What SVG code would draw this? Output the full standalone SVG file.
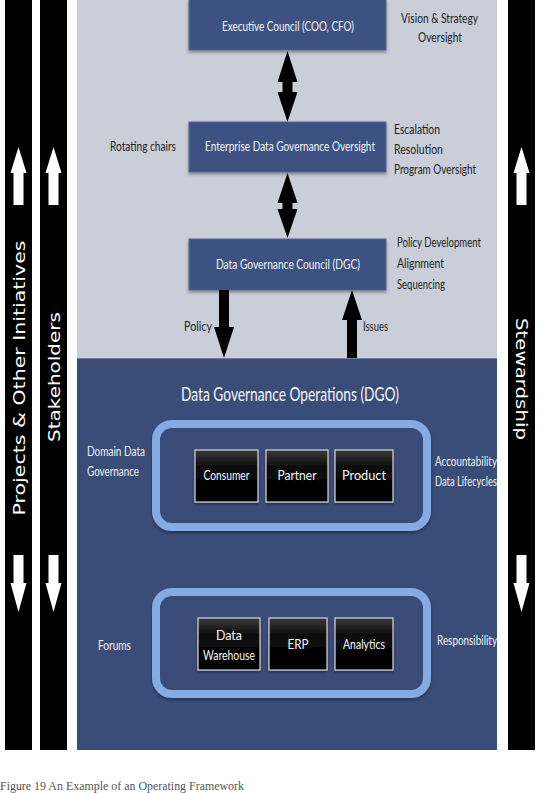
<svg xmlns="http://www.w3.org/2000/svg" width="546" height="793" viewBox="0 0 546 793">
<defs>
<style>
.gs{font-family:Lato,"Open Sans","DejaVu Sans",sans-serif;}
.lbl{font-size:12.5px;fill:#1e1e1e;}
.wl{font-size:12.5px;fill:#eef1f6;}
.bt{font-size:12.5px;fill:#f2f4f8;text-anchor:middle;}
.vt{font-family:"DejaVu Sans",Verdana,sans-serif;font-size:16.5px;fill:#ffffff;text-anchor:middle;}
.bar{fill:#000;}
.navy{fill:#3d5183;stroke:#56698f;stroke-width:1;filter:url(#sh);}
.blk{fill:url(#bg);stroke:#d8d8d8;stroke-width:1.2;filter:url(#sh);}
.ring{fill:#3a4c78;stroke:#84abe4;stroke-width:8;filter:url(#sh);}
.arr{fill:#000;}
.warr{fill:#fff;}
</style>
<linearGradient id="bg" x1="0" y1="0" x2="0" y2="1">
<stop offset="0" stop-color="#3a3a3a"/>
<stop offset="0.35" stop-color="#0a0a0a"/>
<stop offset="1" stop-color="#000"/>
</linearGradient>
<filter id="sh" x="-10%" y="-10%" width="120%" height="130%">
<feDropShadow dx="0" dy="2" stdDeviation="1.5" flood-color="#000" flood-opacity="0.35"/>
</filter>
</defs>
<rect width="546" height="793" fill="#fff"/>

<g id="bars">
<rect class="bar" x="5" y="0" width="27" height="750"/>
<rect class="bar" x="40" y="0" width="27" height="750"/>
<rect class="bar" x="508" y="0" width="27" height="750"/>
<path class="warr" d="M18.5 147 L26.5 173 L23.5 173 L23.5 205 L13.5 205 L13.5 173 L10.5 173 Z"/>
<path class="warr" d="M53.5 147 L61.5 173 L58.5 173 L58.5 205 L48.5 205 L48.5 173 L45.5 173 Z"/>
<path class="warr" d="M521.5 147 L529.5 173 L526.5 173 L526.5 205 L516.5 205 L516.5 173 L513.5 173 Z"/>
<path class="warr" d="M18.5 612 L26.5 583 L23.5 583 L23.5 555 L13.5 555 L13.5 583 L10.5 583 Z"/>
<path class="warr" d="M53.5 612 L61.5 583 L58.5 583 L58.5 555 L48.5 555 L48.5 583 L45.5 583 Z"/>
<path class="warr" d="M521.5 612 L529.5 583 L526.5 583 L526.5 555 L516.5 555 L516.5 583 L513.5 583 Z"/>
<text class="vt" transform="translate(24.5,378) rotate(-90)" textLength="275" lengthAdjust="spacingAndGlyphs">Projects &amp; Other Initiatives</text>
<text class="vt" transform="translate(59.5,377) rotate(-90)" textLength="130" lengthAdjust="spacingAndGlyphs">Stakeholders</text>
<text class="vt" transform="translate(515.5,379) rotate(90)" textLength="122" lengthAdjust="spacingAndGlyphs">Stewardship</text>
</g>

<g id="panel">
<rect x="77" y="0" width="420" height="358" fill="#c9ced8"/>
<rect x="77" y="358" width="420" height="392" fill="#3a4c78"/>
<line x1="77" y1="358.5" x2="497" y2="358.5" stroke="#6a7ea8" stroke-width="1"/>
</g>

<g id="exec">
<rect class="navy" x="189" y="-1" width="197" height="51"/>
<text class="gs bt" x="288" y="31" textLength="132" lengthAdjust="spacingAndGlyphs">Executive Council (COO, CFO)</text>
<text class="gs lbl" x="401" y="23" textLength="77" lengthAdjust="spacingAndGlyphs">Vision &amp; Strategy</text>
<text class="gs lbl" x="418" y="42" textLength="44" lengthAdjust="spacingAndGlyphs">Oversight</text>
</g>

<g id="edgo">
<rect class="navy" x="189" y="122" width="197" height="50"/>
<text class="gs bt" x="290" y="151" textLength="170" lengthAdjust="spacingAndGlyphs">Enterprise Data Governance Oversight</text>
<text class="gs lbl" x="110" y="151" textLength="66" lengthAdjust="spacingAndGlyphs">Rotating chairs</text>
<text class="gs lbl" x="394" y="134" textLength="46" lengthAdjust="spacingAndGlyphs">Escalation</text>
<text class="gs lbl" x="394" y="154" textLength="49" lengthAdjust="spacingAndGlyphs">Resolution</text>
<text class="gs lbl" x="394" y="174" textLength="82" lengthAdjust="spacingAndGlyphs">Program Oversight</text>
</g>

<g id="dgc">
<rect class="navy" x="189" y="239" width="197" height="51"/>
<text class="gs bt" x="288" y="269" textLength="144" lengthAdjust="spacingAndGlyphs">Data Governance Council (DGC)</text>
<text class="gs lbl" x="397" y="247" textLength="84" lengthAdjust="spacingAndGlyphs">Policy Development</text>
<text class="gs lbl" x="397" y="268" textLength="47" lengthAdjust="spacingAndGlyphs">Alignment</text>
<text class="gs lbl" x="397" y="289" textLength="48" lengthAdjust="spacingAndGlyphs">Sequencing</text>
</g>

<g id="dgo">
<text class="gs" x="290" y="401" font-size="18.5" fill="#f2f4f8" text-anchor="middle" textLength="218" lengthAdjust="spacingAndGlyphs">Data Governance Operations (DGO)</text>
</g>

<g id="domain">
<rect class="ring" x="156" y="424" width="271" height="103" rx="16"/>
<text class="gs wl" x="87" y="456" textLength="58" lengthAdjust="spacingAndGlyphs">Domain Data</text>
<text class="gs wl" x="87" y="476" textLength="52" lengthAdjust="spacingAndGlyphs">Governance</text>
<text class="gs wl" x="435" y="466" textLength="62" lengthAdjust="spacingAndGlyphs">Accountability</text>
<text class="gs wl" x="435" y="486" textLength="62" lengthAdjust="spacingAndGlyphs">Data Lifecycles</text>
</g>
<g id="consumer">
<rect class="blk" x="195" y="450" width="63" height="52"/>
<text class="gs bt" x="226.5" y="480" textLength="46" lengthAdjust="spacingAndGlyphs">Consumer</text>
</g>
<g id="partner">
<rect class="blk" x="266" y="450" width="62" height="52"/>
<text class="gs bt" x="297" y="480" textLength="39" lengthAdjust="spacingAndGlyphs">Partner</text>
</g>
<g id="product">
<rect class="blk" x="335" y="450" width="58" height="52"/>
<text class="gs bt" x="364" y="480" textLength="44" lengthAdjust="spacingAndGlyphs">Product</text>
</g>

<g id="forums">
<rect class="ring" x="156" y="592" width="271" height="102" rx="16"/>
<text class="gs wl" x="98" y="650" textLength="33" lengthAdjust="spacingAndGlyphs">Forums</text>
<text class="gs wl" x="437" y="645" textLength="60" lengthAdjust="spacingAndGlyphs">Responsibility</text>
</g>
<g id="dw">
<rect class="blk" x="198" y="618" width="62" height="52"/>
<text class="gs bt" x="229" y="640" textLength="26" lengthAdjust="spacingAndGlyphs">Data</text>
<text class="gs bt" x="229" y="660" textLength="52" lengthAdjust="spacingAndGlyphs">Warehouse</text>
</g>
<g id="erp">
<rect class="blk" x="269" y="618" width="58" height="52"/>
<text class="gs bt" x="298" y="649" textLength="21" lengthAdjust="spacingAndGlyphs">ERP</text>
</g>
<g id="analytics">
<rect class="blk" x="335" y="618" width="58" height="52"/>
<text class="gs bt" x="364" y="649" textLength="42" lengthAdjust="spacingAndGlyphs">Analytics</text>
</g>

<g id="connectors">
<path class="arr" d="M287.5 51 L297.5 82 L292.5 82 L292.5 92 L297.5 92 L287.5 122 L277.5 92 L282.5 92 L282.5 82 L277.5 82 Z"/>
<path class="arr" d="M287.5 173 L297.5 203 L292.5 203 L292.5 209 L297.5 209 L287.5 238 L277.5 209 L282.5 209 L282.5 203 L277.5 203 Z"/>
<path class="arr" d="M219 290 L229 290 L229 327 L234 327 L224 358 L214 327 L219 327 Z"/>
<text class="gs lbl" x="184" y="331" textLength="28" lengthAdjust="spacingAndGlyphs">Policy</text>
<path class="arr" d="M352 290 L362 320 L357 320 L357 358 L347 358 L347 320 L342 320 Z"/>
<text class="gs lbl" x="363" y="331" textLength="25" lengthAdjust="spacingAndGlyphs">Issues</text>
</g>

<text x="0" y="790" font-family="'Liberation Serif',serif" font-size="12.5" fill="#555" textLength="244" lengthAdjust="spacingAndGlyphs">Figure 19 An Example of an Operating Framework</text>
</svg>
